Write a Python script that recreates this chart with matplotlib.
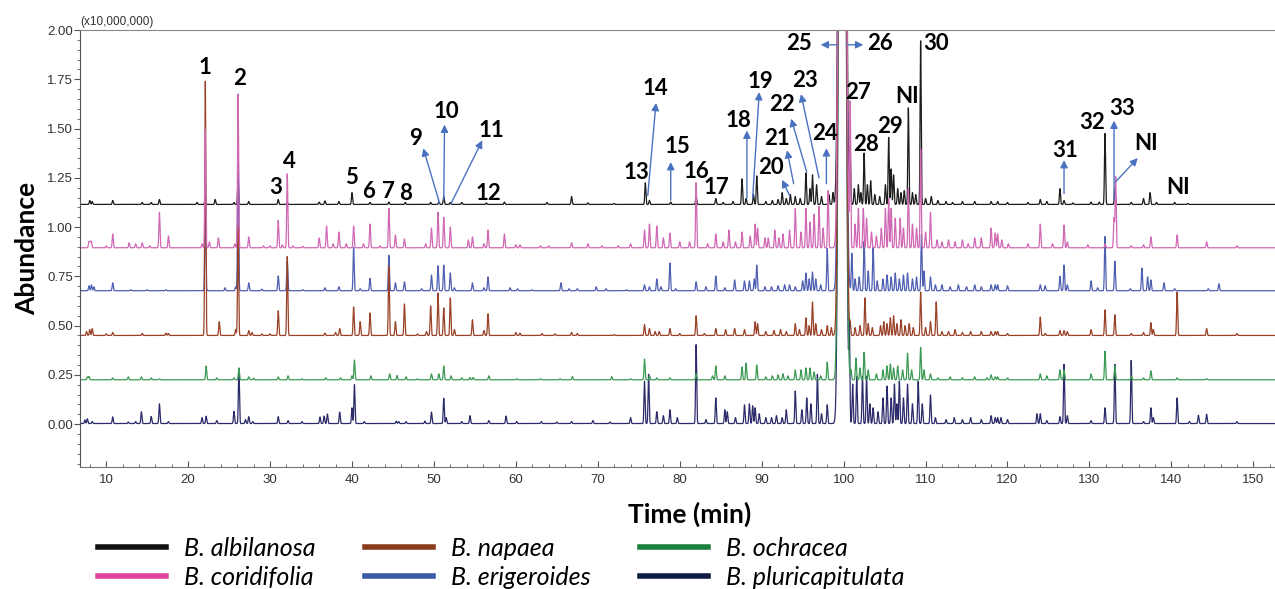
import numpy as np
import matplotlib.pyplot as plt
from matplotlib.lines import Line2D
from matplotlib.ticker import MultipleLocator

plt.rcParams['font.family'] = ['Liberation Sans', 'DejaVu Sans']

# ---- data (rt in min, heights in x10,000,000) ----
species = ['B. albilanosa', 'B. coridifolia', 'B. napaea',
           'B. erigeroides', 'B. ochracea', 'B. pluricapitulata']
baselines = [1.115, 0.895, 0.45, 0.677, 0.225, 0.003]
line_cols = ['#1c1c1c', '#d068b4', '#9a4228', '#4f5fb2', '#3d9a55', '#2c2c6c']
legend_cols = ['#111111', '#e0449f', '#8b3c1e', '#3a5aa8', '#1e8040', '#0f1a45']

# main co-eluting peaks (25/26), off scale in every sample
giant_rt = [99.55, 100.15]
giant_h = [3.5, 3.0]

albilanosa_rt = [8.0, 8.3, 10.8, 14.4, 15.5, 16.5, 21.1, 22.1, 23.3, 25.6, 26.1, 27.4, 31.0, 32.1,
                 36.0, 36.7, 38.4, 40.0, 42.2, 44.5, 46.5, 49.6, 50.6, 51.2, 52.0, 53.4, 56.4, 58.6,
                 63.8, 66.8, 68.8, 72.0, 75.8, 76.3, 78.9, 82.0, 84.4, 85.3, 86.5, 87.6, 88.1, 89.0,
                 89.4, 90.5, 91.3, 92.0, 92.5, 93.0, 93.5, 94.1, 94.7, 95.4, 95.9, 96.2, 96.7, 97.3,
                 98.2, 98.7, 100.8, 101.3, 101.8, 102.1, 102.5, 102.9, 103.3, 103.8, 104.4, 105.1,
                 105.5, 105.8, 106.1, 106.6, 107.0, 107.4, 107.9, 108.4, 108.8, 109.4, 110.0, 110.7,
                 111.5, 112.5, 113.3, 114.5, 116.0, 118.0, 118.8, 120.0, 122.5, 124.0, 124.8, 126.4,
                 126.9, 128.0, 130.2, 131.2, 131.9, 133.1, 135.1, 136.6, 137.4, 138.2, 140.4, 142.0]
albilanosa_h = [.02, .015, .02, .01, .01, .025, .01, .045, .025, .01, .125, .015, .025, .01,
                .012, .018, .015, .06, .01, .012, .01, .01, .012, .04, .01, .01, .008, .012,
                .01, .04, .008, .005, .11, .02, .012, .04, .03, .01, .015, .13, .03, .05,
                .145, .015, .02, .025, .06, .03, .05, .04, .03, .16, .08, .15, .1, .04,
                .05, .06, .28, .08, .1, .06, .26, .1, .12, .05, .04, .1,
                .34, .18, .15, .08, .06, .07, .49, .06, .05, .83, .03, .04,
                .02, .015, .01, .015, .015, .015, .015, .01, .01, .025, .015, .08,
                .02, .008, .012, .012, .36, .08, .01, .03, .06, .01, .01, .005]

coridifolia_rt = [7.9, 8.05, 8.2, 10.0, 10.8, 12.8, 13.6, 14.4, 15.3, 16.5, 17.6, 21.7, 22.1, 22.6,
                  23.7, 25.7, 26.1, 27.4, 29.2, 30.0, 31.0, 31.5, 32.1, 32.8, 34.0, 36.0, 36.9, 37.7,
                  38.4, 39.3, 40.2, 41.4, 42.2, 43.4, 44.5, 45.3, 46.4, 49.0, 49.7, 50.5, 51.2, 52.0,
                  54.2, 54.7, 56.1, 56.6, 58.6, 60.0, 60.5, 63.0, 64.0, 66.8, 68.8, 70.5, 72.5, 74.0,
                  75.7, 76.3, 77.2, 78.0, 78.8, 80.0, 81.2, 82.0, 83.4, 84.4, 85.3, 86.0, 86.8, 87.6,
                  88.6, 89.2, 89.5, 90.4, 90.8, 91.6, 92.1, 92.6, 93.4, 94.1, 94.8, 95.4, 95.9, 96.4,
                  97.0, 97.5, 98.1, 100.8, 101.4, 101.8, 102.4, 102.8, 103.4, 104.0, 104.6, 105.1,
                  105.5, 105.8, 106.3, 106.9, 107.3, 107.9, 108.4, 108.9, 109.4, 110.0, 110.6, 111.4,
                  112.0, 112.8, 113.6, 114.5, 115.2, 116.0, 116.8, 118.0, 118.5, 118.8, 119.3, 120.1,
                  122.5, 124.0, 125.5, 126.9, 127.3, 129.8, 131.9, 133.0, 133.2, 135.1, 136.6, 137.5,
                  140.7, 144.3, 148.0]
coridifolia_h = [.03, .03, .03, .01, .07, .025, .02, .025, .01, .18, .06, .02, .6, .03,
                 .05, .02, .78, .055, .01, .01, .14, .015, .375, .01, .008, .05, .11, .02,
                 .08, .02, .11, .02, .12, .01, .2, .065, .045, .02, .1, .18, .155, .105,
                 .04, .055, .02, .09, .07, .015, .015, .01, .01, .025, .02, .01, .01, .02,
                 .09, .12, .11, .05, .075, .03, .03, .33, .02, .07, .03, .09, .03, .08,
                 .06, .12, .1, .05, .05, .09, .05, .07, .09, .2, .08, .2, .13, .17,
                 .21, .1, .29, .73, .12, .2, .2, .15, .08, .06, .1, .2,
                 .25, .2, .15, .15, .1, .3, .12, .1, .5, .08, .18, .04,
                 .03, .04, .03, .04, .02, .05, .05, .1, .075, .07, .04, .02,
                 .02, .12, .02, .115, .03, .015, .02, .15, .36, .01, .015, .055,
                 .065, .03, .01]

napaea_rt = [7.6, 8.0, 8.3, 10.0, 10.8, 14.4, 17.3, 17.6, 22.1, 23.8, 25.8, 26.1, 27.4, 27.8,
             29.0, 30.0, 31.0, 32.1, 36.7, 38.0, 38.5, 40.2, 41.0, 42.2, 44.5, 45.3, 46.4, 48.0,
             49.1, 49.6, 50.5, 51.2, 52.0, 52.5, 54.7, 56.1, 56.6, 60.0, 60.5, 63.2, 64.8, 66.8,
             67.5, 72.0, 75.7, 76.3, 77.0, 77.5, 78.8, 80.0, 82.0, 83.0, 84.4, 85.6, 86.7, 87.9,
             89.2, 89.5, 90.5, 91.5, 92.3, 93.0, 94.1, 94.6, 95.4, 95.8, 96.2, 96.6, 97.3, 98.0,
             98.5, 100.8, 101.4, 102.0, 102.6, 103.0, 103.5, 104.5, 104.9, 105.3, 105.7, 106.1,
             106.5, 107.0, 107.5, 108.0, 108.5, 109.4, 110.0, 110.6, 111.3, 112.0, 112.8, 113.6,
             114.5, 115.5, 116.8, 118.0, 118.5, 118.8, 120.0, 124.0, 124.6, 126.4, 126.9, 127.3,
             130.2, 131.9, 133.1, 135.1, 136.6, 137.5, 137.8, 140.7, 144.3, 148.0]
napaea_h = [.02, .03, .035, .008, .015, .01, .012, .01, 1.29, .07, .03, .55, .025, .015,
            .008, .008, .125, .4, .012, .015, .035, .145, .07, .114, .35, .07, .16, .008,
            .02, .15, .215, .14, .19, .03, .08, .025, .11, .015, .012, .01, .008, .015,
            .01, .005, .055, .035, .02, .02, .035, .01, .1, .01, .035, .03, .035, .03,
            .07, .06, .02, .025, .03, .02, .06, .03, .09, .05, .17, .06, .03, .05,
            .04, .06, .04, .05, .19, .06, .04, .05, .07, .06, .09, .1,
            .06, .08, .05, .06, .04, .22, .04, .07, .17, .02, .02, .03,
            .015, .02, .02, .02, .02, .02, .01, .093, .01, .025, .025, .02,
            .03, .13, .105, .01, .015, .065, .03, .22, .035, .01]

erigeroides_rt = [7.9, 8.2, 8.5, 10.8, 13.0, 15.0, 17.3, 22.1, 24.5, 25.8, 26.1, 27.4, 29.0, 31.0,
                  32.1, 34.0, 36.7, 38.4, 40.2, 41.0, 42.2, 44.5, 45.3, 46.4, 48.5, 49.7, 50.5, 51.2,
                  52.0, 52.5, 54.7, 56.1, 56.6, 59.3, 60.2, 62.0, 65.5, 66.5, 67.5, 69.8, 71.0, 73.5,
                  75.7, 76.3, 77.2, 77.7, 78.8, 79.5, 82.0, 83.2, 84.4, 85.5, 86.7, 87.9, 88.5, 89.1,
                  89.4, 90.4, 91.2, 92.0, 92.8, 93.4, 94.1, 95.0, 95.4, 95.8, 96.2, 96.6, 97.2, 98.0,
                  101.0, 101.4, 101.9, 102.5, 103.0, 103.6, 104.1, 104.8, 105.3, 105.8, 106.3, 106.8,
                  107.3, 107.8, 108.4, 108.9, 109.5, 109.8, 110.6, 111.2, 112.0, 113.0, 114.0, 115.0,
                  116.0, 116.8, 118.0, 118.5, 118.8, 120.0, 124.0, 124.6, 126.4, 126.9, 127.3, 130.2,
                  131.0, 131.9, 133.1, 135.0, 136.4, 137.1, 137.5, 139.1, 140.4, 144.5, 145.8]
erigeroides_h = [.025, .03, .02, .04, .005, .005, .005, .45, .015, .02, .745, .04, .008, .075,
                 .15, .005, .015, .02, .22, .01, .063, .18, .04, .045, .01, .08, .127, .13,
                 .09, .015, .04, .015, .07, .015, .01, .005, .04, .01, .01, .02, .01, .005,
                 .03, .02, .06, .02, .14, .01, .045, .02, .075, .015, .055, .05, .05, .06,
                 .13, .02, .02, .025, .03, .03, .02, .05, .09, .06, .095, .06, .03, .215,
                 .19, .06, .07, .25, .1, .22, .05, .06, .08, .07, .09, .06,
                 .08, .09, .06, .07, .285, .1, .07, .03, .03, .02, .03, .02,
                 .03, .02, .03, .03, .03, .025, .03, .025, .073, .13, .03, .05,
                 .015, .275, .15, .01, .115, .07, .055, .04, .01, .01, .035]

ochracea_rt = [7.7, 7.9, 10.8, 12.7, 14.3, 15.5, 16.5, 22.2, 23.5, 25.6, 26.2, 27.4, 28.0, 31.0,
               32.2, 33.9, 36.8, 38.6, 40.0, 40.3, 42.3, 44.6, 45.5, 46.6, 48.0, 49.7, 50.6, 51.2,
               52.1, 53.4, 54.4, 54.8, 56.7, 60.1, 63.0, 65.4, 66.9, 71.7, 74.0, 75.7, 76.3, 77.2,
               78.8, 82.0, 84.0, 84.4, 85.5, 87.6, 88.1, 89.4, 90.5, 91.3, 92.0, 92.6, 93.2, 94.1,
               94.8, 95.4, 95.9, 96.4, 97.2, 98.0, 100.9, 101.5, 102.0, 102.5, 103.0, 104.0, 104.8,
               105.3, 105.7, 106.1, 106.6, 107.2, 107.8, 108.3, 109.4, 109.8, 110.6, 111.5, 113.0,
               114.5, 116.0, 117.5, 118.0, 118.5, 118.8, 120.0, 124.0, 124.8, 126.4, 126.9, 130.2,
               131.9, 133.1, 135.1, 136.6, 137.5, 140.7, 144.3]
ochracea_h = [.015, .017, .01, .015, .015, .01, .005, .07, .01, .01, .06, .015, .008, .015,
              .02, .005, .01, .01, .02, .1, .02, .03, .022, .015, .005, .03, .03, .07,
              .02, .01, .012, .012, .02, .005, .005, .005, .017, .016, .005, .105, .02, .01,
              .01, .03, .02, .07, .02, .065, .085, .075, .015, .02, .025, .03, .02, .05,
              .05, .06, .06, .04, .02, .09, .05, .11, .06, .14, .05, .03, .05,
              .07, .08, .06, .07, .05, .135, .05, .165, .05, .03, .01, .015,
              .01, .015, .01, .025, .015, .015, .01, .03, .02, .05, .05, .03,
              .145, .07, .02, .01, .045, .01, .005]

pluricapitulata_rt = [7.4, 7.7, 8.3, 10.8, 12.7, 13.6, 14.3, 15.5, 16.5, 17.6, 21.7, 22.2, 23.5, 25.6,
                      26.2, 27.0, 27.4, 27.9, 31.0, 32.2, 33.9, 36.1, 36.6, 37.0, 38.5, 40.0, 40.3, 41.5,
                      45.4, 45.7, 46.6, 48.9, 49.7, 51.2, 51.5, 53.4, 54.4, 56.7, 58.8, 60.1, 63.1, 65.0,
                      66.8, 69.4, 71.5, 74.0, 75.7, 76.2, 77.2, 78.0, 78.8, 79.7, 82.0, 83.2, 84.4, 85.5,
                      85.8, 86.8, 87.9, 88.5, 88.9, 89.2, 89.7, 90.5, 91.2, 91.8, 92.5, 93.0, 94.1, 94.9,
                      95.5, 96.0, 96.8, 97.3, 98.0, 100.7, 101.1, 101.6, 102.3, 102.8, 103.2, 103.6,
                      104.2, 104.8, 105.3, 105.8, 106.2, 106.5, 106.8, 107.3, 107.8, 108.4, 109.1, 109.6,
                      110.6, 111.2, 112.5, 113.5, 114.5, 115.5, 116.8, 118.0, 118.5, 118.8, 119.2, 120.0,
                      123.6, 124.0, 124.8, 126.4, 126.9, 127.3, 130.2, 131.9, 133.1, 135.1, 136.6, 137.5,
                      137.8, 140.7, 142.2, 143.3, 144.3, 148.0]
pluricapitulata_h = [.018, .024, .01, .034, .008, .01, .06, .036, .1, .01, .03, .037, .015, .062,
                     .28, .02, .035, .01, .035, .015, .01, .033, .038, .048, .058, .08, .197, .01,
                     .012, .01, .01, .012, .058, .128, .03, .01, .04, .015, .038, .01, .01, .008,
                     .01, .015, .008, .03, .215, .25, .06, .04, .07, .03, .4, .02, .13, .07,
                     .06, .03, .095, .1, .09, .08, .05, .03, .03, .04, .03, .07, .165, .07,
                     .13, .1, .25, .05, .095, .46, .2, .24, .24, .24, .1, .08,
                     .06, .13, .19, .13, .2, .1, .215, .13, .2, .1, .215, .1,
                     .145, .03, .02, .03, .02, .03, .02, .04, .03, .03, .03, .02,
                     .05, .05, .015, .035, .3, .04, .015, .08, .3, .32, .01, .08,
                     .03, .13, .01, .042, .047, .01]

peak_rts = [albilanosa_rt, coridifolia_rt, napaea_rt, erigeroides_rt, ochracea_rt, pluricapitulata_rt]
peak_hs = [albilanosa_h, coridifolia_h, napaea_h, erigeroides_h, ochracea_h, pluricapitulata_h]

# peak labels: text, rt, abundance
labels = [('1', 22.1, 1.81), ('2', 26.3, 1.756), ('3', 30.7, 1.20), ('4', 32.4, 1.335),
          ('5', 40.0, 1.25), ('6', 42.0, 1.18), ('7', 44.5, 1.18), ('8', 46.5, 1.17),
          ('9', 47.8, 1.45), ('10', 51.5, 1.585), ('11', 57.0, 1.49), ('12', 56.6, 1.17),
          ('13', 74.7, 1.275), ('14', 77.0, 1.705), ('15', 79.7, 1.41), ('16', 82.0, 1.28),
          ('17', 84.5, 1.20), ('18', 87.2, 1.54), ('19', 89.8, 1.74), ('20', 91.1, 1.30),
          ('21', 91.9, 1.45), ('22', 92.5, 1.62), ('23', 95.3, 1.746), ('24', 97.7, 1.477),
          ('25', 94.5, 1.934), ('26', 104.4, 1.934), ('27', 101.8, 1.685), ('28', 102.7, 1.42),
          ('29', 105.6, 1.51), ('NI', 107.7, 1.665), ('30', 111.3, 1.934), ('31', 127.05, 1.39),
          ('32', 130.3, 1.53), ('33', 134.0, 1.60), ('NI', 136.9, 1.426), ('NI', 140.8, 1.20)]

# arrows: (rt_from, ab_from, rt_to, ab_to)
arrows = [(50.7, 1.12, 48.7, 1.40), (51.2, 1.137, 51.3, 1.52), (52.1, 1.12, 55.9, 1.44),
          (76.1, 1.16, 77.1, 1.63), (78.9, 1.137, 78.9, 1.33), (88.2, 1.147, 88.2, 1.49),
          (88.9, 1.147, 89.7, 1.685), (93.4, 1.16, 92.5, 1.24), (93.9, 1.22, 93.1, 1.39),
          (95.5, 1.28, 93.6, 1.55), (97.0, 1.25, 94.8, 1.675), (97.9, 1.22, 97.9, 1.40),
          (99.2, 1.925, 97.2, 1.925), (100.4, 1.925, 102.4, 1.925), (126.9, 1.17, 126.9, 1.34),
          (133.0, 1.137, 133.0, 1.54), (133.2, 1.23, 135.9, 1.35)]

# ---- build traces ----
t = np.arange(6.8, 152.6, 0.01)


def chromatogram(rts, hs, base):
    y = np.full_like(t, base)
    for r, h in zip(rts, hs):
        y += h * np.exp(-0.5 * ((t - r) / 0.065) ** 2)
    for r, h in zip(giant_rt, giant_h):
        y += h * np.exp(-0.5 * ((t - r) / 0.2) ** 2)
    return y


fig = plt.figure(figsize=(12.75, 5.89), dpi=100)
ax = fig.add_axes([0.0627, 0.207, 0.937, 0.742])

order = [0, 5, 4, 3, 2, 1]
for i in order:
    y = chromatogram(peak_rts[i], peak_hs[i], baselines[i])
    ax.plot(t, y, color=line_cols[i], lw=0.9)

ax.set_xlim(6.8, 152.6)
ax.set_ylim(-0.218, 2.0)
ax.yaxis.set_major_locator(MultipleLocator(0.25))
ax.yaxis.set_minor_locator(MultipleLocator(0.05))
ax.xaxis.set_major_locator(MultipleLocator(10))
ax.xaxis.set_minor_locator(MultipleLocator(2))
ax.yaxis.set_major_formatter(plt.FuncFormatter(lambda v, p: '%.2f' % v))
ax.tick_params(axis='y', which='major', direction='out', length=4, color='#555555',
               labelsize=9.5, labelcolor='#333333', pad=1)
ax.tick_params(axis='y', which='minor', direction='out', length=2, color='#555555')
ax.tick_params(axis='x', which='major', direction='in', length=4, color='#555555',
               labelsize=9.5, labelcolor='#333333', pad=5)
ax.tick_params(axis='x', which='minor', direction='in', length=2, color='#555555')
ax.spines['right'].set_visible(False)
ax.spines['top'].set_color('#888888')
ax.spines['left'].set_color('#555555')
ax.spines['bottom'].set_color('#777777')

ax.text(0.0, 1.004, '(x10,000,000)', transform=ax.transAxes, ha='left', va='bottom',
        fontsize=8.5, color='#333333')

ax.set_xlabel('Time (min)', family='Lato', fontweight='bold', fontsize=19, labelpad=8)
ax.xaxis.set_label_coords(0.51, -0.08)
ax.set_ylabel('Abundance', family='Lato', fontweight='bold', fontsize=19, labelpad=6)

for txt, x, y in labels:
    ax.text(x, y, txt, ha='center', va='center', family='Lato', fontweight='bold', fontsize=16)

for x0, y0, x1, y1 in arrows:
    ax.annotate('', xy=(x1, y1), xytext=(x0, y0),
                arrowprops=dict(arrowstyle='-|>', color='#4a72c0', lw=1, mutation_scale=11,
                                shrinkA=0, shrinkB=0))

handles = [Line2D([], [], color=c, lw=4) for c in legend_cols]
fig.legend(handles, species, ncol=3, loc='upper left', bbox_to_anchor=(0.0769, 0.088),
           frameon=False, prop={'family': 'Lato', 'style': 'italic', 'size': 18},
           handlelength=2.7, handletextpad=0.72, columnspacing=2.0, labelspacing=0.22,
           borderpad=0, borderaxespad=0)

fig.savefig('out.png', dpi=100)
